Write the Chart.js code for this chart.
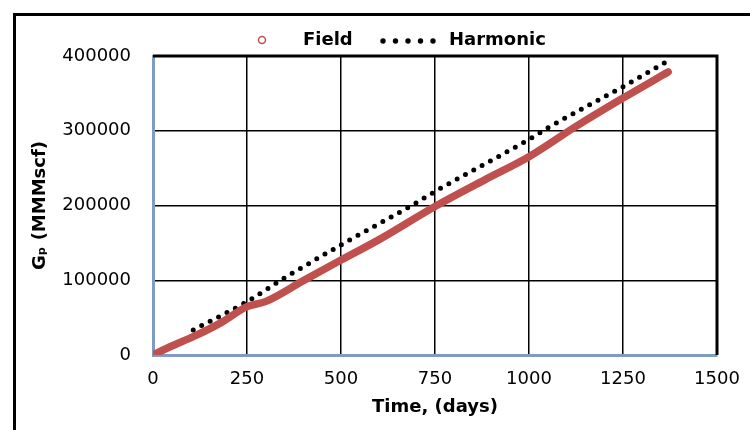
<!DOCTYPE html>
<html>
<head>
<meta charset="utf-8">
<script src="https://cdn.jsdelivr.net/npm/chart.js@4"></script>
<style>
  html, body { margin: 0; padding: 0; background: #fff; }
  #wrap { position: relative; width: 750px; height: 430px; overflow: hidden; }
  #frame { position: absolute; left: 13px; top: 13px; width: 800px; height: 500px;
           border-left: 3px solid #000; border-top: 3px solid #000; }
  canvas { position: absolute; left: 0; top: 0; }
</style>
</head>
<body>
<div id="wrap">
  <div id="frame"></div>
  <canvas id="c" width="750" height="430"></canvas>
</div>
<script>
// values (days, MMMscf)
const fieldDays = [0, 50, 107, 180, 250, 299, 400, 500, 600, 750, 881, 1001, 1125, 1250, 1370];
const fieldGp   = [0, 12000, 24500, 43000, 64700, 71400, 99500, 127000, 154000, 198700, 234000, 265600, 305800, 343700, 378600];

const harmDays = [107, 250, 341, 500, 698, 750, 1001, 1054, 1250, 1360];
const harmGp   = [33500, 71400, 100400, 147300, 203000, 218700, 288800, 305000, 359000, 390600];

const xTicks = [0, 250, 500, 750, 1000, 1250, 1500];
const yTicks = [0, 100000, 200000, 300000, 400000];

const red = '#C0504D';
const tickFont = { family: 'DejaVu Sans', size: 18 };
const boldFont = { family: 'DejaVu Sans', size: 18, weight: 'bold' };

// black top & right edges of the plot area
const plotEdges = {
  id: 'plotEdges',
  afterDatasetsDraw(chart) {
    const a = chart.chartArea, ctx = chart.ctx;
    ctx.save();
    ctx.strokeStyle = '#000';
    ctx.lineWidth = 3;
    ctx.beginPath();
    ctx.moveTo(a.left, a.top);
    ctx.lineTo(a.right, a.top);
    ctx.lineTo(a.right, a.bottom);
    ctx.stroke();
    ctx.restore();
  }
};

// legend in the style of the original: open circle / row of dots
const legendRow = {
  id: 'legendRow',
  afterDraw(chart) {
    const ctx = chart.ctx, y = 40;
    const ds = chart.data.datasets;
    ctx.save();
    ctx.font = 'bold 18px "DejaVu Sans"';
    ctx.textBaseline = 'middle';
    ctx.fillStyle = '#000';
    ctx.strokeStyle = ds[0].borderColor;
    ctx.lineWidth = 1.5;
    ctx.beginPath();
    ctx.arc(262, y, 3.5, 0, Math.PI * 2);
    ctx.stroke();
    ctx.fillText(ds[0].label, 303, y);
    ctx.fillStyle = ds[1].borderColor;
    for (let i = 0; i < 5; i++) {
      ctx.beginPath();
      ctx.arc(383 + i * 12.5, y + 1, 2.7, 0, Math.PI * 2);
      ctx.fill();
    }
    ctx.fillStyle = '#000';
    ctx.fillText(ds[1].label, 449, y);
    ctx.restore();
  }
};

new Chart(document.getElementById('c'), {
  type: 'line',
  data: {
    datasets: [{
      label: 'Field',
      data: fieldDays.map((d, i) => ({ x: d, y: fieldGp[i] })),
      borderColor: red,
      backgroundColor: red,
      borderWidth: 7.5,
      borderCapStyle: 'round',
      borderJoinStyle: 'round',
      cubicInterpolationMode: 'monotone',
      pointRadius: 0
    }, {
      label: 'Harmonic',
      data: harmDays.map((d, i) => ({ x: d, y: harmGp[i] })),
      borderColor: '#000',
      backgroundColor: '#000',
      borderWidth: 5,
      borderDash: [0, 9.5],
      borderCapStyle: 'round',
      cubicInterpolationMode: 'monotone',
      pointRadius: 0
    }]
  },
  options: {
    responsive: false,
    animation: false,
    layout: { padding: { top: 56, right: 33, left: 0, bottom: 0 } },
    plugins: { legend: { display: false }, tooltip: { enabled: false } },
    scales: {
      x: {
        type: 'linear',
        min: 0, max: 1500,
        afterBuildTicks: s => { s.ticks = xTicks.map(v => ({ value: v })); },
        afterFit: s => { s.height = 75; s.paddingLeft = 0; s.paddingRight = 0; },
        grid: { color: '#000', lineWidth: 1.5, drawTicks: false },
        border: { color: '#7F9DC4', width: 3 },
        ticks: { font: tickFont, color: '#000', padding: 14, maxRotation: 0, callback: v => String(v) },
        title: { display: true, text: 'Time, (days)', font: boldFont, color: '#000', padding: { top: 0, bottom: 12 } }
      },
      y: {
        min: 0, max: 400000,
        afterBuildTicks: s => { s.ticks = yTicks.map(v => ({ value: v })); },
        afterFit: s => { s.width = 153; },
        grid: { color: '#000', lineWidth: 1.5, drawTicks: false },
        border: { color: '#7F9DC4', width: 3 },
        ticks: { font: tickFont, color: '#000', padding: 22, callback: v => String(v) },
        title: { display: true, text: 'Gₚ (MMMscf)', font: boldFont, color: '#000', padding: { top: 30, bottom: 0 } }
      }
    }
  },
  plugins: [plotEdges, legendRow]
});
</script>
</body>
</html>
